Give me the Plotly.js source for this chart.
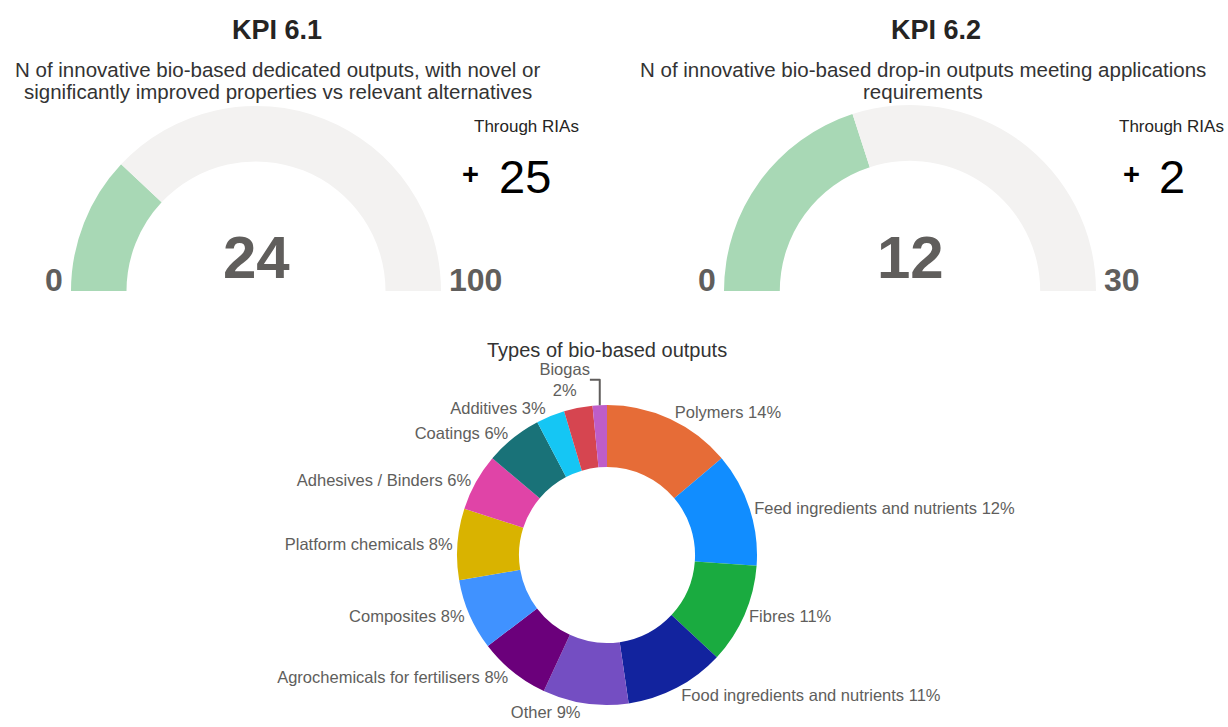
<!DOCTYPE html>
<html>
<head>
<meta charset="utf-8">
<script src="https://cdn.plot.ly/plotly-3.0.1.min.js"></script>
<style>
  html, body { margin: 0; padding: 0; background: #ffffff; }
  #chart { width: 1228px; height: 727px; }
</style>
</head>
<body>
<div id="chart"></div>
<script>
// ---------- DATA ----------
const kpiTitles = ['KPI 6.1', 'KPI 6.2'];
const kpiSubtitles = [
  ['N of innovative bio-based dedicated outputs, with novel or',
   'significantly improved properties vs relevant alternatives'],
  ['N of innovative bio-based drop-in outputs meeting applications',
   'requirements']
];
const kpiValues = [24, 12];
const kpiMin = [0, 0];
const kpiMax = [100, 30];
const riaLabel = 'Through RIAs';
const riaValues = [25, 2];

const donutTitle = 'Types of bio-based outputs';
const outputTypes = [
  'Polymers', 'Feed ingredients and nutrients', 'Fibres',
  'Food ingredients and nutrients', 'Other', 'Agrochemicals for fertilisers',
  'Composites', 'Platform chemicals', 'Adhesives / Binders', 'Coatings',
  'Additives', 'Unlabelled', 'Biogas'
];
const outputCounts = [9, 8, 7, 7, 6, 5, 5, 5, 4, 4, 2, 2, 1];
const outputColors = [
  '#E66C37', '#118DFF', '#1AAB40', '#12239E', '#744EC2', '#6B007B',
  '#4092FF', '#D9B300', '#E044A7', '#197278', '#15C6F4', '#D64550', '#BE5DC9'
];
// ---------- LAYOUT HELPERS ----------
const W = 1228, H = 727;
const px = x => x / W;
const py = y => 1 - y / H;
const FONT = 'Liberation Sans, Arial, sans-serif';
const GREEN = '#A8D8B5', TRACK = '#F3F2F1', NUMGREY = '#605E5C';

// gauge geometry (center x, baseline y, radius) per KPI
const gaugeGeom = [{cx: 256, cy: 291, r: 185}, {cx: 910, cy: 291, r: 186}];
const titleX = [277, 936];
const subX = [278, 923];
const riaGeom = [{lx: 526, plus: 470, num: 525}, {lx: 1171, plus: 1131, num: 1172}];

const traces = [];
const annotations = [];

kpiValues.forEach((v, i) => {
  const g = gaugeGeom[i];
  const span = kpiMax[i] - kpiMin[i];
  traces.push({
    type: 'pie',
    values: [v - kpiMin[i], kpiMax[i] - v, span],
    labels: ['value', 'remaining', 'hidden'],
    marker: {colors: [GREEN, TRACK, 'rgba(0,0,0,0)'], line: {width: 0}},
    hole: 0.70,
    sort: false,
    direction: 'clockwise',
    rotation: -90,
    textinfo: 'none',
    hoverinfo: 'skip',
    showlegend: false,
    domain: {x: [px(g.cx - g.r), px(g.cx + g.r)], y: [py(g.cy + g.r), py(g.cy - g.r)]}
  });
  // big number
  annotations.push({
    x: px(g.cx), y: py(g.cy - 34), xref: 'paper', yref: 'paper',
    text: String(v), showarrow: false, xanchor: 'center', yanchor: 'middle',
    font: {family: FONT, size: 60, color: NUMGREY, weight: 'bold'}
  });
  // min / max labels
  annotations.push({
    x: px(g.cx - g.r - 6), y: py(g.cy - 11), xref: 'paper', yref: 'paper',
    text: String(kpiMin[i]), showarrow: false, xanchor: 'right', yanchor: 'middle',
    font: {family: FONT, size: 32, color: NUMGREY, weight: 'bold'}
  });
  annotations.push({
    x: px(g.cx + g.r + 6), y: py(g.cy - 11), xref: 'paper', yref: 'paper',
    text: String(kpiMax[i]), showarrow: false, xanchor: 'left', yanchor: 'middle',
    font: {family: FONT, size: 32, color: NUMGREY, weight: 'bold'}
  });
  // titles
  annotations.push({
    x: px(titleX[i]), y: py(30), xref: 'paper', yref: 'paper',
    text: '<b>' + kpiTitles[i] + '</b>', showarrow: false, xanchor: 'center', yanchor: 'middle',
    font: {family: FONT, size: 27, color: '#252423'}
  });
  kpiSubtitles[i].forEach((line, k) => {
    annotations.push({
      x: px(subX[i]), y: py(69 + 22 * k), xref: 'paper', yref: 'paper',
      text: line, showarrow: false, xanchor: 'center', yanchor: 'middle',
      font: {family: FONT, size: 20.5, color: '#333333'}
    });
  });
  // RIA
  const rg = riaGeom[i];
  annotations.push({
    x: px(rg.lx), y: py(127), xref: 'paper', yref: 'paper',
    text: riaLabel, showarrow: false, xanchor: 'center', yanchor: 'middle',
    font: {family: FONT, size: 17, color: '#252423'}
  });
  annotations.push({
    x: px(rg.plus), y: py(174), xref: 'paper', yref: 'paper',
    text: '<b>+</b>', showarrow: false, xanchor: 'center', yanchor: 'middle',
    font: {family: FONT, size: 29, color: '#000000'}
  });
  annotations.push({
    x: px(rg.num), y: py(177), xref: 'paper', yref: 'paper',
    text: String(riaValues[i]), showarrow: false, xanchor: 'center', yanchor: 'middle',
    font: {family: FONT, size: 47, color: '#000000'}
  });
});

// donut
const templates = outputTypes.map((t, i) => {
  if (t === 'Unlabelled') return '';
  if (t === 'Biogas') return '%{label}<br>%{percent:.0%}';
  return '%{label} %{percent:.0%}';
});
traces.push({
  type: 'pie',
  labels: outputTypes,
  values: outputCounts,
  marker: {colors: outputColors, line: {width: 0}},
  hole: 0.587,
  sort: false,
  direction: 'clockwise',
  rotation: 0,
  textposition: 'outside',
  texttemplate: templates,
  outsidetextfont: {family: FONT, size: 16.5, color: '#605E5C'},
  showlegend: false,
  hoverinfo: 'label+value+percent',
  domain: {x: [px(457), px(757)], y: [py(705), py(405)]}
});
annotations.push({
  x: px(607), y: py(350), xref: 'paper', yref: 'paper',
  text: donutTitle, showarrow: false, xanchor: 'center', yanchor: 'middle',
  font: {family: FONT, size: 20, color: '#333333'}
});

const layout = {
  width: W, height: H,
  margin: {l: 0, r: 0, t: 0, b: 0},
  paper_bgcolor: '#ffffff',
  plot_bgcolor: '#ffffff',
  showlegend: false,
  annotations: annotations,
  font: {family: FONT}
};

Plotly.newPlot('chart', traces, layout, {displayModeBar: false, staticPlot: false});
</script>
</body>
</html>
